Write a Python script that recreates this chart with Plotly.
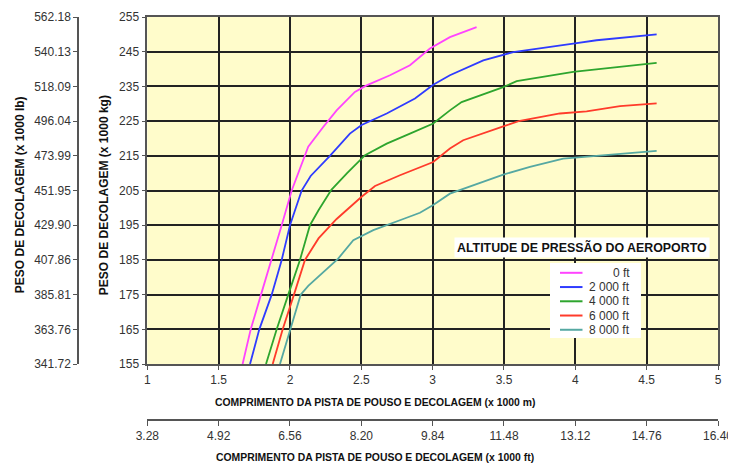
import plotly.graph_objects as go

# ---------------- data ----------------
altitudes = ["0 ft", "2 000 ft", "4 000 ft", "6 000 ft", "8 000 ft"]
colors = ["#FF44FF", "#2F3BFF", "#2EA52E", "#FF3B2B", "#55A8A2"]

x_0ft = [1.668, 1.725, 1.797, 1.872, 1.942, 2.012, 2.128, 2.233, 2.327, 2.455, 2.537, 2.701, 2.841, 2.981, 3.121, 3.308]
y_0ft = [155, 165, 175, 185, 195, 205, 217.6, 223.3, 228.1, 233.4, 235.3, 238.2, 241.1, 245.9, 249.2, 252.1]

x_2000ft = [1.72, 1.785, 1.872, 1.942, 2.0, 2.082, 2.145, 2.28, 2.42, 2.502, 2.678, 2.876, 3.004, 3.121, 3.355, 3.565, 3.985, 4.149, 4.570]
y_2000ft = [155, 165, 175, 185, 195, 205, 209.2, 215.0, 221.4, 223.9, 227.2, 231.5, 235.5, 238.2, 242.5, 244.9, 247.3, 248.3, 250.0]

x_4000ft = [1.832, 1.907, 1.988, 2.07, 2.14, 2.2, 2.29, 2.397, 2.526, 2.678, 2.841, 3.004, 3.121, 3.203, 3.495, 3.589, 3.985, 4.570]
y_4000ft = [155, 165, 175, 185, 195, 199.3, 205.2, 209.9, 215.2, 218.5, 221.4, 224.3, 228.1, 230.5, 234.8, 236.5, 239.2, 241.8]

x_6000ft = [1.879, 1.949, 2.028, 2.105, 2.2, 2.327, 2.502, 2.596, 2.771, 3.004, 3.121, 3.214, 3.495, 3.612, 3.892, 4.079, 4.313, 4.570]
y_6000ft = [155, 165, 175, 185, 191.2, 196.8, 203.2, 206.3, 209.4, 213.2, 217.1, 219.5, 223.5, 225.1, 227.2, 227.8, 229.3, 230.1]

x_8000ft = [1.930, 2.0, 2.075, 2.128, 2.338, 2.444, 2.584, 2.794, 2.911, 3.004, 3.121, 3.495, 3.682, 3.915, 4.336, 4.570]
y_8000ft = [155, 165, 175, 177.5, 185.4, 190.7, 193.6, 196.8, 198.6, 200.8, 204.1, 209.6, 211.8, 214.2, 215.5, 216.4]

series_x = [x_0ft, x_2000ft, x_4000ft, x_6000ft, x_8000ft]
series_y = [y_0ft, y_2000ft, y_4000ft, y_6000ft, y_8000ft]

m_ticks = [1, 1.5, 2, 2.5, 3, 3.5, 4, 4.5, 5]
m_ticktext = ["1", "1.5", "2", "2.5", "3", "3.5", "4", "4.5", "5"]
ft_ticks = [3.28, 4.92, 6.56, 8.20, 9.84, 11.48, 13.12, 14.76, 16.40]
ft_ticktext = ["3.28", "4.92", "6.56", "8.20", "9.84", "11.48", "13.12", "14.76", "16.40"]
kg_ticks = [155, 165, 175, 185, 195, 205, 215, 225, 235, 245, 255]
lb_ticks = [341.72, 363.76, 385.81, 407.86, 429.90, 451.95, 473.99, 496.04, 518.09, 540.13, 562.18]
lb_ticktext = ["341.72", "363.76", "385.81", "407.86", "429.90", "451.95", "473.99", "496.04", "518.09", "540.13", "562.18"]

legend_title = "ALTITUDE DE PRESSÃO DO AEROPORTO"
xtitle_m = "COMPRIMENTO DA PISTA DE POUSO E DECOLAGEM (x 1000 m)"
xtitle_ft = "COMPRIMENTO DA PISTA DE POUSO E DECOLAGEM (x 1000 ft)"
ytitle_kg = "PESO DE DECOLAGEM (x 1000 kg)"
ytitle_lb = "PESO DE DECOLAGEM (x 1000 lb)"

# ---------------- figure ----------------
FONT = "Liberation Sans, Arial, sans-serif"
OFF = 8                       # page body margin of the html page
SW, SH = 736, 467             # screen size
W, H = SW - OFF, SH - OFF     # figure size so it fits the window
# plot geometry in screen pixels
LB_AXIS_X, PLOT_X0, PLOT_X1 = 78, 147.3, 718
PLOT_Y0, PLOT_Y1, FT_AXIS_Y = 16.7, 364, 420
ML = LB_AXIS_X - OFF
MR = W - (PLOT_X1 - OFF)
MT = PLOT_Y0 - OFF
MB = H - (FT_AXIS_Y - OFF)
PW, PH = W - ML - MR, H - MT - MB


def px2x(px):
    return (px - OFF - ML) / PW


def py2y(py):
    return (H - MB - (py - OFF)) / PH


fig = go.Figure()
for name, xs, ys, c in zip(altitudes, series_x, series_y, colors):
    fig.add_trace(go.Scatter(x=xs, y=ys, mode="lines", name=name,
                             line=dict(color=c, width=1.8), showlegend=False))

# dummy trace to carry the secondary (ft / lb) axes
fig.add_trace(go.Scatter(x=[ft_ticks[0]], y=[lb_ticks[0]], xaxis="x2", yaxis="y2",
                         mode="markers", marker=dict(opacity=0), showlegend=False,
                         hoverinfo="skip"))

tickfont = dict(family=FONT, size=12, color="#333")
x_dom = [px2x(PLOT_X0), 1.0]
y_dom = [py2y(PLOT_Y1), 1.0]

fig.update_layout(
    width=W, height=H,
    margin=dict(l=ML, r=MR, t=MT, b=MB, autoexpand=False),
    paper_bgcolor="white",
    plot_bgcolor="#FFFCCB",
    font=dict(family=FONT, color="#333"),
    xaxis=dict(domain=x_dom, range=[1, 5], tickvals=m_ticks, ticktext=m_ticktext,
               showgrid=True, gridcolor="#222", gridwidth=1.6,
               showline=True, linecolor="#555", linewidth=1.5, mirror=True,
               ticks="outside", ticklen=4, tickcolor="#555", tickfont=tickfont,
               zeroline=False, automargin=False),
    yaxis=dict(domain=y_dom, range=[155, 255], tickvals=kg_ticks,
               showgrid=True, gridcolor="#222", gridwidth=1.6,
               showline=True, linecolor="#555", linewidth=1.5, mirror=True,
               ticks="outside", ticklen=4, tickcolor="#555", tickfont=tickfont,
               zeroline=False, automargin=False),
    xaxis2=dict(overlaying="x", anchor="free", position=0, side="bottom",
                range=[ft_ticks[0], ft_ticks[-1]], tickvals=ft_ticks, ticktext=ft_ticktext,
                showgrid=False, showline=True, linecolor="#555", linewidth=1.5,
                ticks="outside", ticklen=5, tickcolor="#555", tickfont=tickfont,
                zeroline=False, automargin=False),
    yaxis2=dict(overlaying="y", anchor="free", position=0, side="left",
                range=[lb_ticks[0], lb_ticks[-1]], tickvals=lb_ticks, ticktext=lb_ticktext,
                showgrid=False, showline=True, linecolor="#555", linewidth=1.5,
                ticks="outside", ticklen=4, tickcolor="#555", tickfont=tickfont,
                zeroline=False, automargin=False),
    showlegend=False,
)

title_font = dict(family=FONT, size=10.4, color="#111")
ytitle_font = dict(family=FONT, size=12, color="#111")
ann = [
    dict(text="<b>" + xtitle_m + "</b>", x=px2x(374.5), y=py2y(402), font=title_font),
    dict(text="<b>" + xtitle_ft + "</b>", x=px2x(375), y=py2y(458), font=title_font),
    dict(text="<b>" + ytitle_kg + "</b>", x=px2x(104), y=py2y(195), font=ytitle_font, textangle=-90),
    dict(text="<b>" + ytitle_lb + "</b>", x=px2x(20), y=py2y(195), font=ytitle_font, textangle=-90),
    dict(text="<b>" + legend_title + "</b>", x=px2x(581.5), y=py2y(247.5),
         font=dict(family=FONT, size=12.4, color="#111"), bgcolor="white", borderpad=2),
]
for a in ann:
    a.update(xref="paper", yref="paper", showarrow=False, xanchor="center", yanchor="middle")
    fig.add_annotation(**a)

# legend box (built from the series names and colours)
fig.add_shape(type="rect", xref="paper", yref="paper",
              x0=px2x(550), x1=px2x(641), y0=py2y(338), y1=py2y(263),
              fillcolor="white", line=dict(width=0), layer="above")
entry_top, entry_step = 272.7, 14.25
for i, (name, c) in enumerate(zip(altitudes, colors)):
    yy = py2y(entry_top + i * entry_step)
    fig.add_shape(type="line", xref="paper", yref="paper",
                  x0=px2x(560), x1=px2x(582.5), y0=yy, y1=yy,
                  line=dict(color=c, width=2), layer="above")
    fig.add_annotation(text=name, xref="paper", yref="paper", x=px2x(631.5), y=yy,
                       xanchor="right", yanchor="middle", showarrow=False,
                       font=dict(family=FONT, size=12, color="#333"))

fig.write_html("out.html")
